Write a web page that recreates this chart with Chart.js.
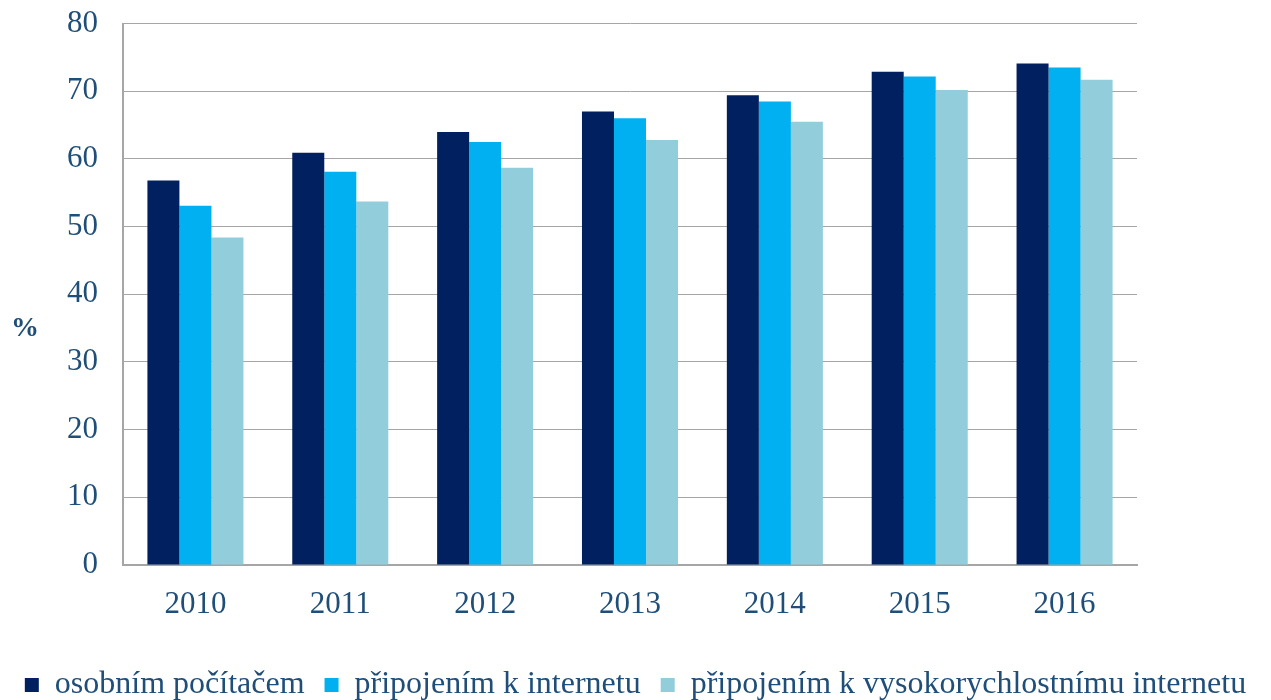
<!DOCTYPE html>
<html>
<head>
<meta charset="utf-8">
<script src="https://cdn.jsdelivr.net/npm/chart.js@4.4.1/dist/chart.umd.min.js"></script>
<style>
  html, body { margin: 0; padding: 0; background: #fff; }
  #wrap { width: 1271px; height: 700px; }
</style>
</head>
<body>
<div id="wrap"><canvas id="chart" width="1271" height="700"></canvas></div>
<script>
const years = ['2010', '2011', '2012', '2013', '2014', '2015', '2016'];
const pcValues = [56.8, 60.9, 64.0, 67.0, 69.4, 72.9, 74.1];
const internetValues = [53.1, 58.1, 62.5, 66.0, 68.5, 72.2, 73.5];
const broadbandValues = [48.4, 53.7, 58.7, 62.8, 65.5, 70.2, 71.7];
const seriesLabels = [
  'osobním počítačem',
  'připojením k internetu',
  'připojením k vysokorychlostnímu internetu'
];

const textColor = '#1f4e79';
const fontFamily = '"Liberation Serif", "DejaVu Serif", serif';

// "%" label drawn horizontally left of the y axis
const percentLabel = {
  id: 'percentLabel',
  afterDraw(chart) {
    const ctx = chart.ctx;
    ctx.save();
    ctx.font = 'bold 28px ' + fontFamily;
    ctx.fillStyle = textColor;
    ctx.textAlign = 'center';
    ctx.textBaseline = 'middle';
    ctx.fillText('%', 25, 329);
    ctx.restore();
  }
};

const data = {
  labels: years,
  datasets: [
    { label: seriesLabels[0], data: pcValues, backgroundColor: '#002060' },
    { label: seriesLabels[1], data: internetValues, backgroundColor: '#00b0f0' },
    { label: seriesLabels[2], data: broadbandValues, backgroundColor: '#92cddc' }
  ]
};

const config = {
  type: 'bar',
  data,
  options: {
    responsive: false,
    animation: false,
    layout: { padding: { top: 0, right: 0, left: 0, bottom: 0 } },
    datasets: {
      bar: { barPercentage: 1, categoryPercentage: 0.663, borderWidth: 0 }
    },
    scales: {
      x: {
        grid: { display: false },
        border: { color: '#a6a6a6', width: 2 },
        ticks: {
          color: textColor,
          font: { family: fontFamily, size: 31 },
          padding: 13
        },
        afterFit(scale) { scale.height = 84; }
      },
      y: {
        min: 0,
        max: 80,
        ticks: {
          stepSize: 10,
          color: textColor,
          font: { family: fontFamily, size: 31 },
          padding: 5
        },
        grid: {
          color: '#a6a6a6',
          lineWidth: 1,
          drawTicks: true,
          tickLength: 20,
          tickColor: 'rgba(0,0,0,0)'
        },
        border: { color: '#a6a6a6', width: 2 },
        afterFit(scale) { scale.width = 123; }
      },
      // empty right-hand axis, only keeps the white margin on the right
      yRight: {
        position: 'right',
        min: 0,
        max: 80,
        ticks: { display: false },
        grid: { display: false, drawOnChartArea: false },
        border: { display: false },
        afterFit(scale) { scale.width = 134; }
      }
    },
    plugins: {
      legend: {
        position: 'bottom',
        maxHeight: 51,
        labels: {
          color: textColor,
          font: { family: fontFamily, size: 32 },
          boxWidth: 14,
          boxHeight: 14,
          padding: 20
        }
      },
      tooltip: { enabled: false }
    }
  },
  plugins: [percentLabel]
};

new Chart(document.getElementById('chart'), config);
</script>
</body>
</html>
